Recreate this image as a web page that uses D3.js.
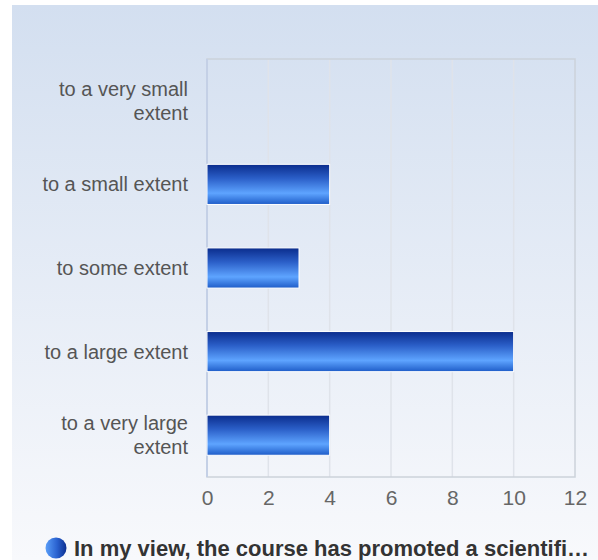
<!DOCTYPE html>
<html>
<head>
<meta charset="utf-8">
<script src="https://cdn.jsdelivr.net/npm/d3@7"></script>
<style>
  body { margin: 0; background: #fff; }
  svg { display: block; font-family: Arial, "Liberation Sans", sans-serif; }
</style>
</head>
<body>
<svg id="chart" width="598" height="560"></svg>
<script>
const categories = ["to a very small extent", "to a small extent", "to some extent", "to a large extent", "to a very large extent"];
const labelLines = [["to a very small", "extent"], ["to a small extent"], ["to some extent"], ["to a large extent"], ["to a very large", "extent"]];
const counts = [0, 4, 3, 10, 4];
const xTicks = [0, 2, 4, 6, 8, 10, 12];
const seriesName = "In my view, the course has promoted a scientifi\u2026";

const svg = d3.select("#chart");
const margin = { top: 59, right: 23, bottom: 83, left: 207 },
      width = 598 - margin.left - margin.right,
      height = 560 - margin.top - margin.bottom;

const defs = svg.append("defs");
const bg = defs.append("linearGradient").attr("id", "bg").attr("x1", 0).attr("y1", 0).attr("x2", 0).attr("y2", 1);
bg.append("stop").attr("offset", "0%").attr("stop-color", "#d3dff0");
bg.append("stop").attr("offset", "100%").attr("stop-color", "#f8f9fc");

const barGrad = defs.append("linearGradient").attr("id", "bar").attr("x1", 0).attr("y1", 0).attr("x2", 0).attr("y2", 1);
barGrad.append("stop").attr("offset", "0%").attr("stop-color", "#0a2c8c");
barGrad.append("stop").attr("offset", "35%").attr("stop-color", "#2b5fc8");
barGrad.append("stop").attr("offset", "72%").attr("stop-color", "#5ea4ff");
barGrad.append("stop").attr("offset", "100%").attr("stop-color", "#1e5cc8");

const dotGrad = defs.append("linearGradient").attr("id", "dot").attr("x1", 0).attr("y1", 0).attr("x2", 1).attr("y2", 0);
dotGrad.append("stop").attr("offset", "0%").attr("stop-color", "#5a9ef8");
dotGrad.append("stop").attr("offset", "55%").attr("stop-color", "#2a62d0");
dotGrad.append("stop").attr("offset", "100%").attr("stop-color", "#0c2f90");

// background panel
svg.append("rect")
  .attr("x", 12).attr("y", 5)
  .attr("width", 598 - 12).attr("height", 560 - 5)
  .attr("fill", "url(#bg)");

const g = svg.append("g").attr("transform", `translate(${margin.left},${margin.top})`);

const x = d3.scaleLinear().domain([0, 12]).range([0, width]);
const y = d3.scaleBand().domain(categories).range([0, height]).paddingInner(0.52).paddingOuter(0.26);

// grid
g.selectAll(".grid")
  .data(xTicks.slice(1, -1))
  .enter().append("line")
  .attr("x1", d => x(d)).attr("x2", d => x(d))
  .attr("y1", 0).attr("y2", height)
  .attr("stroke", "#dfe3ea").attr("stroke-width", 1.5);

// plot border
g.append("rect")
  .attr("x", 0).attr("y", 0)
  .attr("width", width).attr("height", height)
  .attr("fill", "none")
  .attr("stroke", "#ccd2da").attr("stroke-width", 1.5);

// left axis line
g.append("line")
  .attr("x1", 0).attr("x2", 0).attr("y1", 0).attr("y2", height)
  .attr("stroke", "#c4d0e6").attr("stroke-width", 2);

// bars
g.selectAll(".bar")
  .data(categories.map((c, i) => ({ cat: c, value: counts[i] })).filter(d => d.value > 0))
  .enter().append("rect")
  .attr("class", "bar")
  .attr("x", x(0))
  .attr("y", d => y(d.cat))
  .attr("width", d => x(d.value) - x(0))
  .attr("height", y.bandwidth())
  .attr("fill", "url(#bar)")
  .attr("stroke", "#ffffff").attr("stroke-width", 1);

// category labels
const labels = g.selectAll(".cat")
  .data(categories)
  .enter().append("text")
  .attr("class", "cat")
  .attr("text-anchor", "end")
  .attr("font-size", 20)
  .attr("fill", "#555")
  .attr("transform", d => `translate(-19,${y(d) + y.bandwidth() / 2})`);

labels.each(function(d, i) {
  const lines = labelLines[i];
  const t = d3.select(this);
  const startDy = lines.length === 1 ? 0.35 : -0.25;
  lines.forEach((ln, j) => {
    t.append("tspan")
      .attr("x", 0)
      .attr("dy", j === 0 ? startDy + "em" : "1.2em")
      .text(ln);
  });
});

// x tick labels
g.append("g")
  .attr("transform", `translate(0,${height})`)
  .call(d3.axisBottom(x).tickValues(xTicks).tickSize(0).tickPadding(13))
  .call(a => a.select(".domain").remove())
  .selectAll("text")
  .attr("font-size", 21)
  .attr("font-family", "Arial, 'Liberation Sans', sans-serif")
  .attr("fill", "#666");

// legend
const legend = svg.append("g").attr("transform", "translate(56,548)");
legend.append("circle").attr("r", 10.5).attr("fill", "url(#dot)");
legend.append("text")
  .attr("x", 18).attr("y", 8)
  .attr("font-size", 22)
  .attr("font-weight", "bold")
  .attr("fill", "#333")
  .text(seriesName);
</script>
</body>
</html>
